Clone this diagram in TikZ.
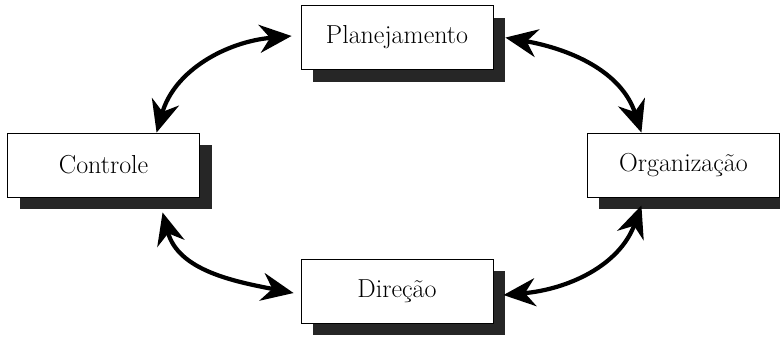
\documentclass[tikz,border=0pt]{standalone}
\usepackage{tikz}
\usetikzlibrary{positioning,shadows}
\usetikzlibrary{arrows.meta}

\begin{document}
\begin{tikzpicture}[node distance = 1cm, line width = 0.6pt,
  etapa/.style = {rectangle, draw=black, fill=white,
    font = \fontsize{18.5}{22}\selectfont,
    minimum width = 4.8cm, minimum height = 1.6cm,
    drop shadow = {shadow xshift=0.3cm, shadow yshift=-0.3cm, fill=black!85, opacity=1}},
  seta/.style = {{Stealth[length=8mm,width=7mm]}-{Stealth[length=8mm,width=7mm]}, line width=3pt}]
  \useasboundingbox (0,0) rectangle (19.5,-8.45);
  \coordinate (Centro) at (9.925,-4.125);
  \node[etapa] (Plan) [above = 2.375cm of Centro] {Planejamento};
  \node[etapa] (Dir)  [below = 2.35cm of Centro]  {Direção};
  \node[etapa] (Ctrl) [left = 4.925cm of Centro]  {Controle};
  \node[etapa] (Org)  [right = 4.75cm of Centro]  {Organização};

  \draw[seta] ([shift={(1.325,0)}]Ctrl.north) to[out=74, in=185] ([shift={(-0.225,0.04)}]Plan.west);
  \draw[seta] ([shift={(1.475,-0.375)}]Ctrl.south) to[out=-75, in=169] ([shift={(-0.175,-0.04)}]Dir.west);
  \draw[seta] ([shift={(0.25,-0.09)}]Dir.east) to[out=5, in=250] ([shift={(-1.05,-0.2)}]Org.south);
  \draw[seta] ([shift={(0.3,0)}]Plan.east) to[out=-10, in=108] ([shift={(-1.05,0)}]Org.north);
\end{tikzpicture}
\end{document}
